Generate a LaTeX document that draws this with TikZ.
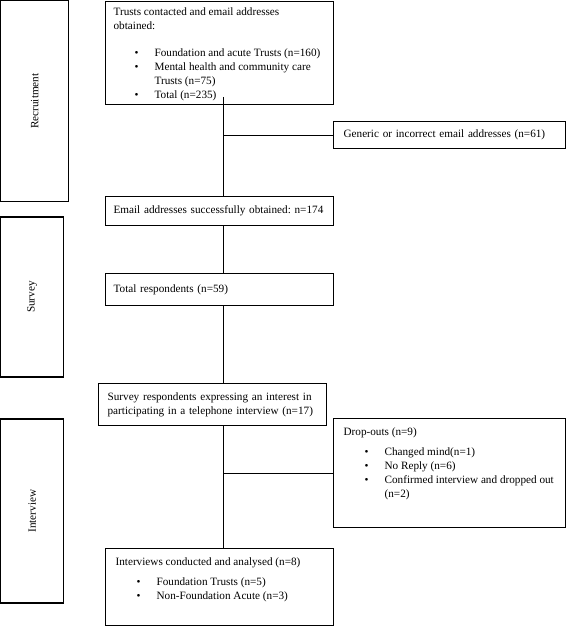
\documentclass[tikz,border=0pt]{standalone}
\usepackage{fontspec}
\setmainfont{Liberation Serif}
\usepackage{graphicx}
\usepackage{enumitem}
\usepackage{tikz}
\frenchspacing
\setlist[itemize]{label=\textbullet, leftmargin=41pt, labelsep=16pt,
  itemsep=0pt, parsep=0pt, partopsep=0pt, topsep=6pt}
\tikzset{
  fc_node/.style = {draw, line width=1.2pt, anchor=north west,
    inner xsep=10pt, inner ysep=0pt, font=\fontsize{11.2}{14}\selectfont},% box of the main column
  fc_phase/.style = {draw, line width=1.2pt, inner sep=0pt,
    font=\fontsize{11.2}{14}\selectfont},% phase box on the left
  fc_line/.style = {line width=0.8pt},% connector
}

\begin{document}
\begin{tikzpicture}[x=1pt, y=-1pt]
\useasboundingbox (0,0) rectangle (567,626);
% phases
\node [fc_phase, minimum width=68pt, minimum height=201pt] (recruitment) at (34.6,101.1) {\rotatebox{90}{Recruitment}};
\node [fc_phase, minimum width=63pt, minimum height=160pt] (survey) at (32.1,297) {\rotatebox{90}{Survey}};
\node [fc_phase, minimum width=63pt, minimum height=184pt] (interview) at (32.1,511) {\rotatebox{90}{Interview}};
% main column
\node [fc_node, inner xsep=8pt, inner ysep=7pt] (trusts) at (105,0.6) {\parbox[t][89pt][t]{212pt}{\raggedright
    Trusts contacted and email addresses\\ obtained:
    \begin{itemize}[topsep=13pt]
    \item Foundation and acute Trusts (n=160)
    \item Mental health and community care\\ Trusts (n=75)
    \item Total (n=235)
    \end{itemize}}};
\node [fc_node, align=left, text width=212pt, minimum height=27pt] (generic) at (333,121) {Generic or incorrect email addresses (n=61)};
\node [fc_node, align=left, inner xsep=8pt, text width=212pt, minimum height=29pt] (email) at (105,196) {Email addresses successfully obtained: n=174};
\node [fc_node, align=left, inner xsep=8pt, text width=212pt, minimum height=32pt] (total) at (105,273) {Total respondents (n=59)};
\node [fc_node, align=left, inner xsep=9pt, text width=210pt, minimum height=42pt] (interest) at (98,383)
    {Survey respondents expressing an interest in\\ participating in a telephone interview (n=17)};
\node [fc_node, inner ysep=9pt] (dropouts) at (333,418) {\parbox[t][91pt][t]{212pt}{\raggedright
    Drop-outs (n=9)
    \begin{itemize}
    \item Changed mind(n=1)
    \item No Reply (n=6)
    \item Confirmed interview and dropped out\\ (n=2)
    \end{itemize}}};
\node [fc_node, inner ysep=9pt] (final) at (105,548) {\parbox[t][59pt][t]{208pt}{\raggedright
    Interviews conducted and analysed (n=8)
    \begin{itemize}
    \item Foundation Trusts (n=5)
    \item Non-Foundation Acute (n=3)
    \end{itemize}}};
% connectors
\coordinate (spine) at (223,0);
\draw [fc_line] ([yshift=8pt]trusts.south -| spine) -- (email.north -| spine);
\draw [fc_line] (spine |- generic.west) -- (generic.west);
\draw [fc_line] (email.south -| spine) -- (total.north -| spine);
\draw [fc_line] (total.south -| spine) -- (interest.north -| spine);
\draw [fc_line] (interest.south -| spine) -- (final.north -| spine);
\draw [fc_line] (spine |- dropouts.west) -- (dropouts.west);
\end{tikzpicture}
\end{document}
